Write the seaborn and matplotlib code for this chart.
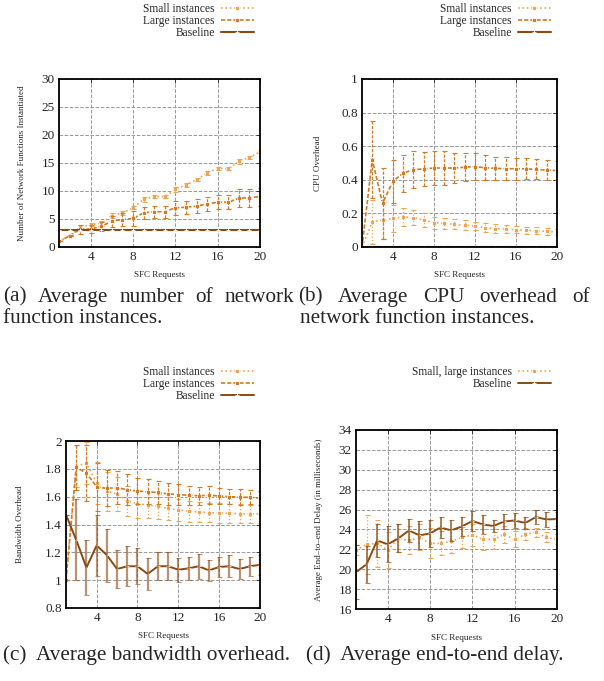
import matplotlib
matplotlib.use("Agg")

import matplotlib.pyplot as plt
import seaborn as sns
import numpy as np

sns.set_style("whitegrid", {
    "grid.linestyle": "--",
    "grid.color": "#9a9a9a",
    "axes.edgecolor": "black",
})
plt.rcParams["font.family"] = ["Liberation Serif", "DejaVu Serif"]

# -------------------------
# data
# -------------------------

requests = [1, 2, 3, 4, 5, 6, 7, 8, 9, 10, 11, 12, 13, 14, 15, 16, 17, 18, 19, 20]

# (a) number of network functions
a_small = [1, 2, 3.5, 4, 4.2, 5.6, 6.1, 7, 8.5, 9, 9, 10.3, 11.1, 12, 13.2, 14, 14, 15.3, 16, 17]
a_small_err = [0, 0.1, 0.4, 0.3, 0.4, 0.5, 0.4, 0.3, 0.4, 0.3, 0.3, 0.4, 0.3, 0.3, 0.4, 0.3, 0.3, 0.4, 0.3, 0.3]
a_large = [1, 2, 3.2, 3.2, 3.7, 4.6, 4.9, 5.1, 6.1, 6.3, 6.3, 7, 7.1, 7.3, 7.7, 8, 8, 8.7, 8.8, 9]
a_large_err = [0, 0.1, 0.8, 0.7, 0.8, 1.0, 1.1, 1.3, 1.1, 1.1, 1.1, 1.2, 1.2, 1.3, 1.2, 1.3, 1.2, 1.6, 1.6, 1.6]
a_base = [3, 3, 3, 3, 3, 3, 3, 3, 3, 3, 3, 3, 3, 3, 3, 3, 3, 3, 3, 3]

# (b) CPU overhead
b_small = [0, 0.15, 0.16, 0.17, 0.18, 0.175, 0.16, 0.145, 0.14, 0.135, 0.13, 0.125, 0.115, 0.11, 0.107, 0.103, 0.1, 0.097, 0.093, 0.09]
b_small_err = [0, 0.13, 0.11, 0.08, 0.055, 0.045, 0.04, 0.035, 0.03, 0.03, 0.03, 0.025, 0.025, 0.025, 0.022, 0.02, 0.02, 0.02, 0.02, 0.02]
b_large = [0, 0.52, 0.26, 0.39, 0.44, 0.46, 0.465, 0.47, 0.47, 0.47, 0.475, 0.478, 0.472, 0.468, 0.466, 0.466, 0.465, 0.462, 0.458, 0.455]
b_large_err = [0, 0.23, 0.21, 0.13, 0.11, 0.11, 0.1, 0.1, 0.1, 0.09, 0.085, 0.08, 0.075, 0.07, 0.068, 0.065, 0.062, 0.06, 0.06, 0.057]
b_base = [0, 0, 0, 0, 0, 0, 0, 0, 0, 0, 0, 0, 0, 0, 0, 0, 0, 0, 0, 0]

# (c) bandwidth overhead
c_small = [1.0, 1.82, 1.84, 1.70, 1.64, 1.62, 1.57, 1.55, 1.54, 1.53, 1.515, 1.505, 1.495, 1.49, 1.485, 1.483, 1.48, 1.478, 1.477, 1.476]
c_small_err = [0, 0.15, 0.15, 0.15, 0.14, 0.12, 0.11, 0.1, 0.09, 0.09, 0.085, 0.08, 0.075, 0.075, 0.07, 0.07, 0.07, 0.07, 0.065, 0.065]
c_large = [1.0, 1.81, 1.77, 1.67, 1.66, 1.665, 1.65, 1.64, 1.635, 1.63, 1.62, 1.615, 1.61, 1.607, 1.61, 1.605, 1.6, 1.597, 1.595, 1.59]
c_large_err = [0, 0.16, 0.2, 0.17, 0.13, 0.12, 0.11, 0.095, 0.09, 0.085, 0.08, 0.075, 0.07, 0.065, 0.065, 0.06, 0.055, 0.055, 0.05, 0.05]
c_base = [1.47, 1.29, 1.09, 1.25, 1.18, 1.08, 1.1, 1.1, 1.045, 1.1, 1.1, 1.075, 1.085, 1.1, 1.07, 1.095, 1.1, 1.08, 1.1, 1.11]
c_base_err = [0, 0.29, 0.2, 0.22, 0.19, 0.135, 0.145, 0.13, 0.115, 0.1, 0.1, 0.085, 0.085, 0.09, 0.075, 0.075, 0.08, 0.07, 0.07, 0.07]

# (d) end-to-end delay
d_small = [21.9, 22.5, 22.6, 21.9, 23.1, 22.9, 23.2, 22.6, 22.6, 22.8, 23.2, 23.45, 23.0, 23.0, 23.5, 23.0, 23.5, 23.7, 23.2, 23.0]
d_small_err = [0.5, 3.0, 2.4, 1.8, 1.4, 1.4, 1.3, 1.5, 1.2, 1.2, 1.05, 1.1, 1.05, 1.0, 0.85, 0.8, 0.6, 0.45, 0.5, 0.5]
d_base = [19.7, 20.5, 22.9, 22.5, 23.1, 23.9, 23.4, 23.6, 24.2, 23.9, 24.3, 24.85, 24.5, 24.35, 24.8, 24.9, 24.65, 25.25, 25.0, 25.05]
d_base_err = [2.7, 1.85, 1.65, 1.8, 1.4, 1.15, 1.4, 1.35, 1.05, 1.05, 1.0, 1.05, 1.0, 0.65, 0.8, 0.8, 0.65, 0.75, 0.8, 0.7]

# -------------------------
# styles
# -------------------------

SMALL = dict(color="#efa553", linestyle=":", marker="s", markersize=3)
LARGE = dict(color="#d37a22", linestyle=(0, (2.5, 1.2)), marker="s", markersize=2.5)
BASE = dict(color="#8a4a12", linestyle="-", marker="+", markersize=3)

W, H = 604, 681
fig = plt.figure(figsize=(W / 100, H / 100), dpi=100)


def px_axes(left, top, right, bottom):
    return fig.add_axes([left / W, 1 - bottom / H, (right - left) / W, (bottom - top) / H])


def draw_series(ax, y, err, style, label, lw=1.2, err_lw=0.9, err_alpha=1.0):
    sns.lineplot(x=requests, y=y, ax=ax, label=label, linewidth=lw,
                 markeredgewidth=0.6, **style)
    if err is not None:
        eb = ax.errorbar(requests, y, yerr=err, fmt="none", ecolor=style["color"],
                         elinewidth=err_lw, capsize=1.8, capthick=0.8, alpha=err_alpha)
        if style["linestyle"] != "-":
            eb[2][0].set_linestyle(style["linestyle"])


def style_axes(ax, ylim, yticks, ylabel, ylabelpad):
    ax.set_xlim(1, 20)
    ax.set_ylim(*ylim)
    ax.set_xticks([4, 8, 12, 16, 20])
    ax.set_yticks(yticks)
    ax.tick_params(direction="in", length=3, width=0.6, labelsize=9.5,
                   top=True, right=True, pad=3)
    ax.grid(True, linewidth=0.7)
    for s in ax.spines.values():
        s.set_linewidth(1.3)
        s.set_color("black")
    ax.set_xlabel("SFC Requests", fontsize=6.5, labelpad=6)
    ax.set_ylabel(ylabel, fontsize=6.5, labelpad=ylabelpad)


def place_legend(ax, right, top):
    ax.legend(loc="upper right", bbox_to_anchor=(right / W, 1 - top / H),
              bbox_transform=fig.transFigure, markerfirst=False, frameon=False,
              fontsize=8.3, handlelength=2.9, handletextpad=0.5, labelspacing=0.0,
              borderpad=0, borderaxespad=0)


# (a)
ax = px_axes(59, 79, 260, 247)
draw_series(ax, a_small, a_small_err, SMALL, "Small instances")
draw_series(ax, a_large, a_large_err, LARGE, "Large instances")
draw_series(ax, a_base, None, BASE, "Baseline", lw=1.5)
style_axes(ax, (0, 30), [0, 5, 10, 15, 20, 25, 30],
           "Number of Network Functions Instantiated", 11)
ax.set_yticklabels(["0", "5", "10", "15", "20", "25", "30"])
place_legend(ax, 254, 3)

# (b)
ax = px_axes(362, 79, 557, 247)
draw_series(ax, b_small, b_small_err, SMALL, "Small instances")
draw_series(ax, b_large, b_large_err, LARGE, "Large instances")
draw_series(ax, b_base, None, BASE, "Baseline", lw=1.5)
style_axes(ax, (0, 1), [0, 0.2, 0.4, 0.6, 0.8, 1], "CPU Overhead", 14)
ax.set_yticklabels(["0", "0.2", "0.4", "0.6", "0.8", "1"])
place_legend(ax, 551, 3)

# (c)
ax = px_axes(66, 441, 260, 608)
draw_series(ax, c_small, c_small_err, SMALL, "Small instances")
draw_series(ax, c_large, c_large_err, LARGE, "Large instances")
draw_series(ax, c_base, c_base_err, BASE, "Baseline", lw=1.4, err_lw=1.6, err_alpha=0.6)
style_axes(ax, (0.8, 2), [0.8, 1, 1.2, 1.4, 1.6, 1.8, 2], "Bandwidth Overhead", 15)
ax.set_yticklabels(["0.8", "1", "1.2", "1.4", "1.6", "1.8", "2"])
place_legend(ax, 254, 366)

# (d)
ax = px_axes(356, 430, 557, 609)
draw_series(ax, d_small, d_small_err, SMALL, "Small, large instances")
draw_series(ax, d_base, d_base_err, BASE, "Baseline", lw=1.4, err_lw=1.4, err_alpha=0.7)
style_axes(ax, (16, 34), [16, 18, 20, 22, 24, 26, 28, 30, 32, 34],
           "Average End\u2013to\u2013end Delay (in milliseconds)", 11)
place_legend(ax, 551, 366)

# -------------------------
# captions
# -------------------------

CAP = 15.3


def justified(words, x0, x1, y):
    texts = [fig.text(0, 1 - y / H, w, fontsize=CAP, va="center") for w in words]
    fig.canvas.draw()
    r = fig.canvas.get_renderer()
    widths = [t.get_window_extent(r).width for t in texts]
    gap = (x1 - x0 - sum(widths)) / (len(words) - 1)
    x = x0
    for t, w in zip(texts, widths):
        t.set_x(x / W)
        x += w + gap


def plain(text, x0, y):
    fig.text(x0 / W, 1 - y / H, text, fontsize=CAP, va="center")


justified(["(a)", "Average", "number", "of", "network"], 3, 294, 297)
plain("function instances.", 3, 318)
justified(["(b)", "Average", "CPU", "overhead", "of"], 298, 590, 297)
plain("network function instances.", 300, 318)
plain("(c)  Average bandwidth overhead.", 3, 655)
plain("(d)  Average end-to-end delay.", 306, 655)

fig.savefig("out.png", dpi=100)
